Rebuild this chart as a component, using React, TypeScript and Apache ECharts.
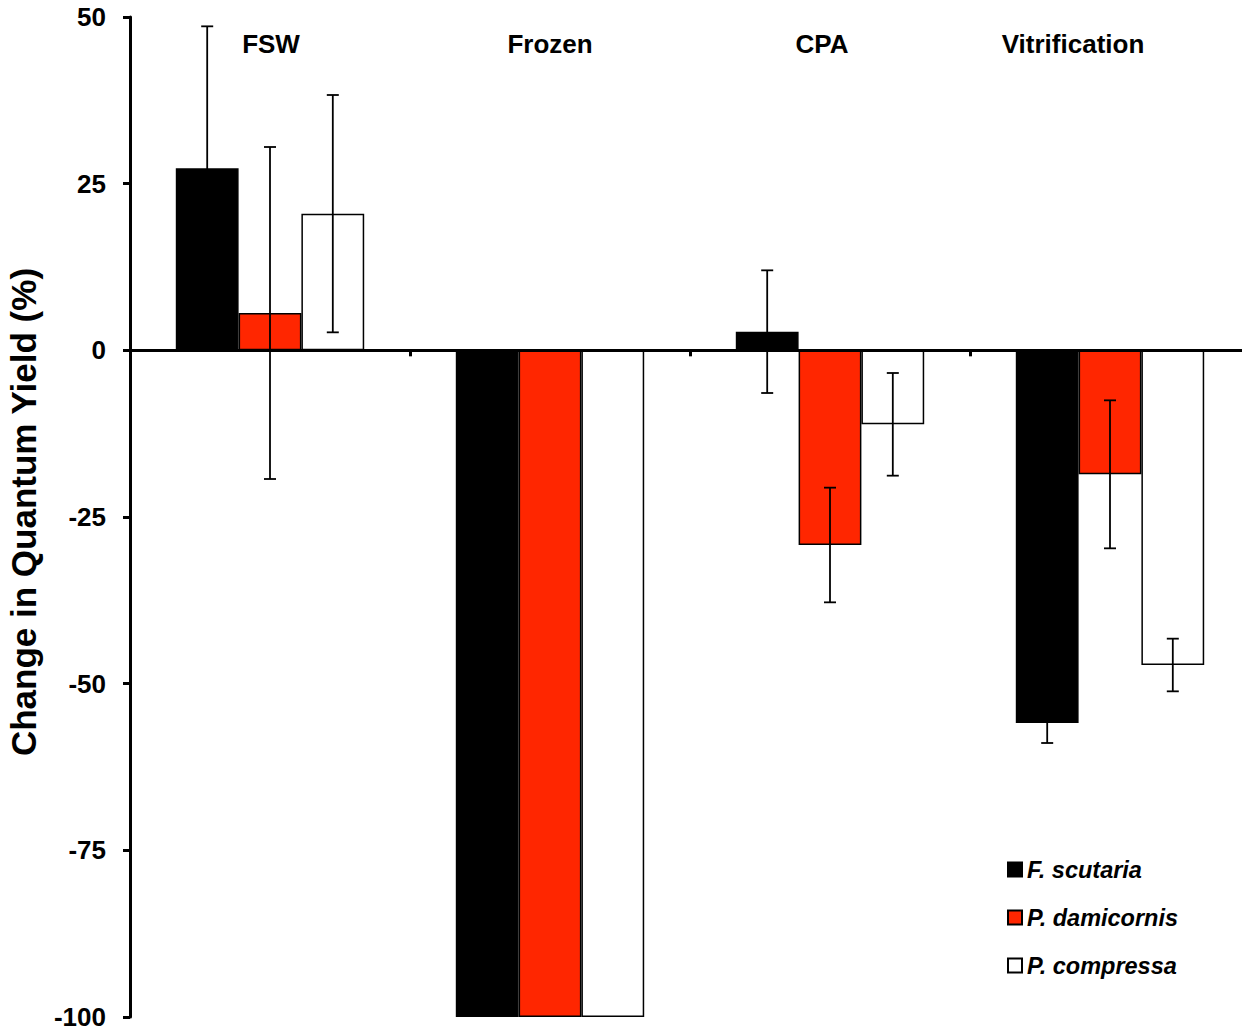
import React, { useEffect, useRef } from "react";
import * as echarts from "echarts";

const categories = ["FSW", "Frozen", "CPA", "Vitrification"];
const seriesNames = ["F. scutaria", "P. damicornis", "P. compressa"];
const scutaria = [27.3, -100, 2.8, -55.9];
const scutariaErr = [21.3, 0, 9.2, 3.0];
const damicornis = [5.6, -100, -29.2, -18.6];
const damicornisErr = [24.9, 0, 8.6, 11.1];
const compressa = [20.5, -100, -11.1, -47.2];
const compressaErr = [17.8, 0, 7.7, 3.95];
const yTicks = { min: -100, max: 50, interval: 25 };
// visual shift (px, leftwards) of each category caption
const labelShift = [-1, 0, 8, 37];

const FONT = "'Liberation Sans', Arial, Helvetica, sans-serif";
const BAR_W = 62.8;

export default function App() {
  const ref = useRef<HTMLDivElement>(null);
  useEffect(() => {
    if (!ref.current) return;
    const chart = echarts.init(ref.current, null, { renderer: "svg" });
    const values = [scutaria, damicornis, compressa];
    const errs = [scutariaErr, damicornisErr, compressaErr];
    const fills = ["#000000", "#ff2600", "#ffffff"];

    const barSeries = values.map((v, i) => ({
      name: seriesNames[i],
      type: "bar",
      xAxisIndex: 0,
      data: v,
      barWidth: BAR_W,
      barGap: "0%",
      itemStyle: { color: fills[i], borderColor: "#000", borderWidth: 1.5 },
      z: 2,
    }));

    const errSeries = values.map((v, i) => ({
      name: seriesNames[i] + " err",
      type: "custom",
      xAxisIndex: 0,
      z: 5,
      silent: true,
      data: v.map((val, k) => [k, val, errs[i][k]]),
      renderItem: (params: any, api: any) => {
        const k = api.value(0);
        const val = api.value(1);
        const e = api.value(2);
        if (!e) return null;
        const cx = api.coord([k, 0])[0] + (i - 1) * BAR_W;
        const yHi = api.coord([k, val + e])[1];
        const yLo = api.coord([k, val - e])[1];
        const style = { stroke: "#000", lineWidth: 1.8 };
        return {
          type: "group",
          children: [
            { type: "line", shape: { x1: cx, y1: yHi, x2: cx, y2: yLo }, style },
            { type: "line", shape: { x1: cx - 6, y1: yHi, x2: cx + 6, y2: yHi }, style },
            { type: "line", shape: { x1: cx - 6, y1: yLo, x2: cx + 6, y2: yLo }, style },
          ],
        };
      },
    }));

    const rich: any = {};
    categories.forEach((c, i) => {
      const s = labelShift[i] * 2;
      rich["c" + i] = {
        fontFamily: FONT,
        fontWeight: "bold",
        fontSize: 26,
        color: "#000",
        padding: [0, Math.max(s, 0), 0, Math.max(-s, 0)],
      };
    });

    chart.setOption({
      animation: false,
      backgroundColor: "#fff",
      grid: {
        left: 130,
        right: 0,
        top: 17,
        bottom: 14,
        containLabel: false,
        outerBoundsMode: "none",
      },
      legend: {
        data: seriesNames,
        orient: "vertical",
        left: 1007,
        top: 858,
        padding: 0,
        icon: "rect",
        itemWidth: 14,
        itemHeight: 14,
        itemGap: 25,
        textStyle: {
          fontFamily: FONT,
          fontWeight: "bold",
          fontStyle: "italic",
          fontSize: 23.5,
          color: "#000",
        },
      },
      xAxis: [
        {
          type: "category",
          data: categories,
          position: "bottom",
          z: 10,
          axisLine: { onZero: true, lineStyle: { color: "#000", width: 3 } },
          axisTick: { show: true, length: 6, lineStyle: { color: "#000", width: 3 } },
          axisLabel: { show: false },
          splitLine: { show: false },
        },
        {
          type: "category",
          data: categories,
          position: "top",
          axisLine: { show: false },
          axisTick: { show: false },
          axisLabel: {
            inside: true,
            margin: 14,
            formatter: (v: string, idx: number) => `{c${idx}|${v}}`,
            rich,
          },
          splitLine: { show: false },
        },
      ],
      yAxis: {
        type: "value",
        min: yTicks.min,
        max: yTicks.max,
        interval: yTicks.interval,
        name: "Change in Quantum Yield (%)",
        nameLocation: "middle",
        nameGap: 89,
        nameTextStyle: {
          fontFamily: FONT,
          fontWeight: "bold",
          fontSize: 35,
          color: "#000",
          padding: [0, 0, 0, 10],
        },
        axisLine: { show: true, lineStyle: { color: "#000", width: 3 } },
        axisTick: { show: true, length: 7, lineStyle: { color: "#000", width: 3 } },
        axisLabel: {
          margin: 24,
          fontFamily: FONT,
          fontWeight: "bold",
          fontSize: 26,
          color: "#000",
        },
        splitLine: { show: false },
      },
      series: [...barSeries, ...errSeries],
    });
    return () => chart.dispose();
  }, []);
  return (
    <div
      style={{
        position: "absolute",
        left: 0,
        top: 0,
        width: 1242,
        height: 1031,
        overflow: "hidden",
      }}
    >
      <div ref={ref} style={{ width: 1250, height: 1031 }} />
    </div>
  );
}
